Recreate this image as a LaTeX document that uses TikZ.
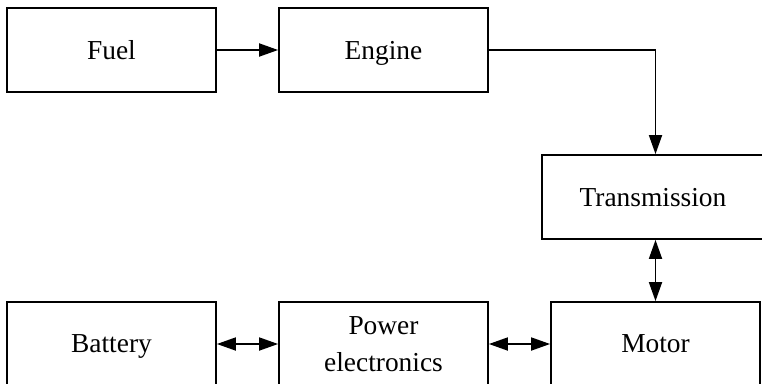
\documentclass[tikz,border=0pt]{standalone}
\usepackage{fontspec}
\setmainfont{Liberation Serif}
\usetikzlibrary{arrows.meta,calc}
\begin{document}
\begin{tikzpicture}[x=1pt,y=-1pt,
  blk/.style={draw,line width=1.8pt,minimum width=209pt,minimum height=84pt,inner sep=0pt,
    text depth=0pt,font=\fontsize{27.4}{37}\selectfont,align=center},
  tip/.style={Triangle[length=19pt,width=13pt]},
  conn/.style={line width=1.8pt,-{Triangle[length=19pt,width=13pt]}},
  dconn/.style={line width=1.8pt,{Triangle[length=19pt,width=13pt]}-{Triangle[length=19pt,width=13pt]}}]
\useasboundingbox (0,0) rectangle (762,383);
\node[blk] (fuel) at (111.5,50) {Fuel};
\node[blk] (engine) at (383.5,50) {Engine};
\node[blk,minimum width=222pt] (trans) at (653,197) {Transmission};
\node[blk] (battery) at (111.5,344) {Battery};
\node[blk] (pe) at (383.5,344) {Power\\electronics};
\node[blk] (motor) at (655.5,344) {Motor};
\coordinate (tin) at (trans.north -| motor.north);
\coordinate (tout) at (trans.south -| motor.north);
\draw[conn] (fuel.east) -- (engine.west);
\draw[conn] (engine.east) -| (tin);
\draw[dconn] (tout) -- (motor.north);
\draw[dconn] (battery.east) -- (pe.west);
\draw[dconn] (pe.east) -- (motor.west);
\end{tikzpicture}
\end{document}
